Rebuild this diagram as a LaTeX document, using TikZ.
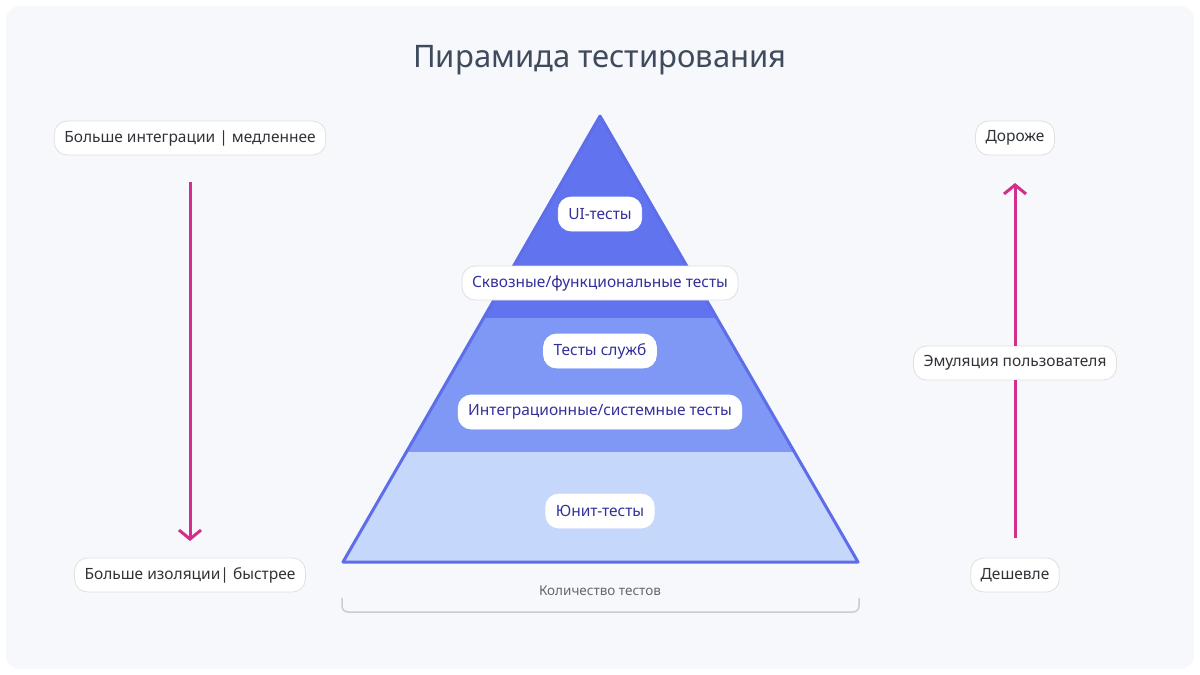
\documentclass[tikz,border=0pt]{standalone}
\usepackage{fontspec}
\setmainfont{Noto Sans}
\usetikzlibrary{arrows.meta}
\definecolor{bgc}{HTML}{F6F8FB}
\definecolor{titc}{HTML}{3F4A5C}
\definecolor{topc}{HTML}{6173EE}
\definecolor{midc}{HTML}{7F98F5}
\definecolor{botc}{HTML}{C5D7FB}
\definecolor{edgec}{HTML}{5E6EE8}
\definecolor{inkc}{HTML}{33309A}
\definecolor{sidec}{HTML}{2F3338}
\definecolor{magc}{HTML}{D52D8C}
\definecolor{grayc}{HTML}{C9CDD3}
\tikzset{
 pill/.style={rounded corners=13pt, fill=white, draw=#1, line width=0.8pt, inner xsep=10pt, minimum height=34pt, font=\fontsize{15.5}{18}\selectfont},
 pin/.style={pill=white, text=inkc},
 side/.style={pill=black!12, text=sidec, minimum height=34pt},
 marrow/.style={draw=magc, line width=3pt, -{Straight Barb[length=9pt,width=22pt,line width=3pt]}}
}
\begin{document}
\begin{tikzpicture}[x=1pt,y=-1pt]
\useasboundingbox (0,0) rectangle (1200,675);
\fill[white] (0,0) rectangle (1200,675);
\fill[bgc, rounded corners=14pt] (6,6) rectangle (1194,669);
\node[font=\fontsize{31}{36}\bfseries, text=titc] (title) at (600,60) {Пирамида тестирования};
% pyramid
\begin{scope}
\clip (600,116) -- (858,562) -- (343,562) -- cycle;
\fill[topc] (330,100) rectangle (870,318);
\fill[midc] (330,318) rectangle (870,452);
\fill[botc] (330,452) rectangle (870,570);
\end{scope}
\draw[edgec, line width=3pt, line join=round] (600,116) -- (858,562) -- (343,562) -- cycle;
\node[pin] (ui) at (600,214) {UI-тесты};
\node[pill=black!12, text=inkc] (e2e) at (600,283) {Сквозные/функциональные тесты};
\node[pin] (svc) at (600,351) {Тесты служб};
\node[pin] (int) at (600,412) {Интеграционные/системные тесты};
\node[pin] (unit) at (600,511) {Юнит-тесты};
% bracket
\draw[grayc, line width=1.5pt, rounded corners=6pt] (342,598) -- (342,612) -- (859,612) -- (859,598);
\node[text=black!60, font=\fontsize{13.5}{16}\selectfont] (cnt) at (600,591) {Количество тестов};
% side labels
\node[side] (l1) at (190,138) {Больше интеграции | медленнее};
\node[side] (l2) at (190,575) {Больше изоляции| быстрее};
\node[side] (r1) at (1015,138) {Дороже};
\node[side] (r2) at (1015,575) {Дешевле};
\node[side] (r3) at (1015,363) {Эмуляция пользователя};
\coordinate (la) at (190,182);
\coordinate (lb) at (190,541);
\coordinate (ra) at (1015,538);
\coordinate (rb) at (1015,183);
\draw[marrow] (la) -- (lb);
\draw[draw=magc, line width=3pt] (ra) -- (r3.south);
\draw[marrow] (r3.north) -- (rb);
\end{tikzpicture}
\end{document}
